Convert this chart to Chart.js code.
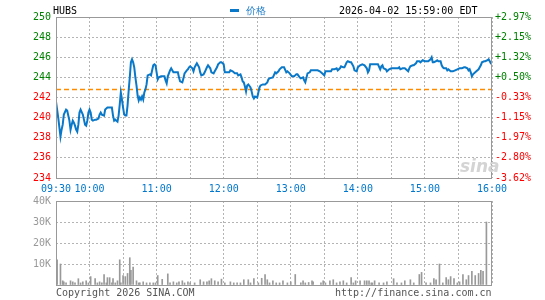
<!DOCTYPE html>
<html><head><meta charset="utf-8">
<script src="https://cdn.jsdelivr.net/npm/chart.js@4"></script>
<style>
html,body{margin:0;padding:0;background:#fff;}
#wrap{position:relative;width:545px;height:300px;overflow:hidden;font-family:"DejaVu Sans Mono",monospace;font-size:10px;}
canvas{position:absolute;left:0;top:0;}
.t{position:absolute;white-space:nowrap;line-height:12px;}
</style></head><body>
<div id="wrap">
<canvas id="pc" width="545" height="300"></canvas>
<canvas id="vc" width="545" height="300"></canvas>
<div class="t" style="left:53px;top:5px;color:#000">HUBS</div>
<div class="t" style="left:230px;top:5px;color:#1a7ac8"><span style="display:inline-block;width:9px;height:3px;background:#0a78c8;vertical-align:middle;margin-right:7px;position:relative;top:-1px"></span>价格</div>
<div class="t" style="left:339px;top:5px;color:#000">2026-04-02 15:59:00 EDT</div>
<div class="t" style="left:56px;top:287px;color:#555">Copyright 2026 SINA.COM</div>
<div class="t" style="left:335px;top:287px;color:#555">http://finance.sina.com.cn</div>
<div class="t" style="left:460px;top:156px;color:#d4d4d4;font:italic bold 17px 'DejaVu Sans',sans-serif;line-height:20px">sina</div>
</div>
<script>
// ---- data ----
const prevClose = 242.79;
const priceTimes = ["09:30","09:32","09:34","09:35","09:36","09:37","09:39","09:40","09:41","09:42","09:43","09:44","09:45","09:46","09:47","09:48","09:49","09:50","09:51","09:52","09:54","09:55","09:56","09:57","09:58","09:59","10:00","10:01","10:02","10:03","10:05","10:06","10:08","10:09","10:10","10:11","10:13","10:14","10:16","10:18","10:20","10:21","10:22","10:23","10:25","10:26","10:27","10:28","10:29","10:30","10:31","10:32","10:33","10:34","10:35","10:36","10:37","10:38","10:39","10:40","10:41","10:42","10:43","10:44","10:45","10:46","10:47","10:48","10:49","10:50","10:51","10:52","10:54","10:55","10:56","10:57","10:58","10:59","11:00","11:01","11:02","11:04","11:07","11:08","11:09","11:10","11:12","11:13","11:15","11:17","11:19","11:20","11:21","11:23","11:24","11:25","11:27","11:28","11:29","11:30","11:32","11:33","11:34","11:35","11:36","11:38","11:39","11:40","11:42","11:43","11:45","11:46","11:48","11:49","11:51","11:52","11:54","11:55","11:57","11:58","12:00","12:01","12:03","12:05","12:06","12:08","12:10","12:12","12:13","12:15","12:16","12:17","12:18","12:19","12:20","12:21","12:22","12:24","12:25","12:26","12:27","12:28","12:30","12:31","12:32","12:33","12:35","12:37","12:39","12:40","12:41","12:44","12:46","12:47","12:49","12:50","12:52","12:54","12:56","12:57","12:59","13:01","13:03","13:05","13:06","13:08","13:09","13:11","13:12","13:13","13:15","13:17","13:18","13:20","13:22","13:24","13:26","13:28","13:30","13:31","13:33","13:36","13:37","13:39","13:41","13:42","13:44","13:45","13:47","13:48","13:50","13:51","13:53","13:54","13:56","13:57","13:59","14:00","14:02","14:04","14:06","14:08","14:09","14:10","14:11","14:13","14:15","14:18","14:20","14:21","14:22","14:23","14:25","14:26","14:28","14:30","14:33","14:36","14:37","14:38","14:40","14:42","14:44","14:45","14:46","14:47","14:49","14:50","14:52","14:53","14:55","14:56","14:58","15:00","15:02","15:03","15:05","15:06","15:07","15:08","15:10","15:11","15:12","15:14","15:15","15:16","15:17","15:19","15:20","15:21","15:23","15:25","15:27","15:29","15:31","15:33","15:35","15:36","15:38","15:39","15:40","15:41","15:42","15:43","15:45","15:46","15:48","15:49","15:50","15:51","15:53","15:54","15:56","15:57","15:58","15:59","16:00"];
const priceValues = [241.6,240.0,238.1,238.8,239.3,240.3,240.8,240.7,240.2,239.7,238.8,239.3,239.7,239.5,239.2,238.8,238.6,239.3,240.5,240.8,240.3,239.8,239.3,239.2,239.7,240.5,240.8,240.5,239.8,239.7,239.8,239.8,239.9,240.3,240.5,240.3,240.2,240.8,241.0,241.0,241.0,240.2,239.7,239.8,239.6,240.2,241.3,242.5,241.8,241.0,240.3,240.2,240.2,241.2,242.7,244.0,245.5,245.8,245.5,245.0,244.0,243.2,242.2,241.7,242.0,241.8,242.1,241.8,242.5,242.8,243.3,244.2,244.3,244.2,244.7,245.2,245.3,245.2,244.5,243.8,244.0,244.1,244.1,243.7,243.4,244.1,244.7,244.9,244.5,244.5,244.5,244.0,243.6,243.5,243.9,244.4,244.7,244.8,245.0,245.1,244.9,244.6,245.0,245.2,245.4,245.0,244.5,244.2,244.3,244.5,245.0,245.2,244.9,244.5,244.4,244.6,245.0,245.3,245.5,245.5,245.3,244.5,244.5,244.5,244.7,244.6,244.4,244.4,244.2,244.3,244.0,243.6,243.5,243.1,242.6,243.2,243.3,243.0,242.6,242.1,241.9,242.1,242.0,242.5,243.0,243.2,243.3,243.3,243.5,243.8,243.9,244.0,244.5,244.4,244.6,244.8,245.0,245.0,244.5,244.6,244.4,244.1,244.1,244.3,244.3,244.0,243.9,244.0,243.7,243.5,244.4,244.5,244.7,244.7,244.7,244.7,244.6,244.4,244.2,244.6,244.6,244.6,244.8,244.8,244.9,244.7,244.9,245.1,245.0,245.0,245.5,245.6,245.5,245.5,245.1,244.7,244.6,245.0,245.2,245.3,245.2,244.9,244.5,244.7,245.3,245.3,245.3,245.3,244.8,245.1,245.2,244.9,244.8,244.6,244.8,244.9,244.9,244.9,245.0,244.8,244.9,244.9,244.7,244.6,244.9,245.1,245.2,245.2,245.4,245.6,245.6,245.5,245.7,245.6,245.6,245.6,245.8,246.0,245.5,245.5,245.6,245.7,245.6,245.6,245.2,245.0,244.9,244.9,244.7,244.8,244.6,244.6,244.7,244.8,244.9,244.9,245.0,245.0,244.9,244.7,244.8,244.5,244.1,244.3,244.5,244.6,244.8,245.0,245.2,245.5,245.6,245.6,245.7,245.8,245.6,245.4,245.3];
const volumeTimes = ["09:31","09:34","09:36","09:37","09:39","09:43","09:45","09:47","09:50","09:52","09:54","09:57","09:59","10:01","10:05","10:07","10:09","10:11","10:13","10:15","10:16","10:18","10:20","10:21","10:23","10:25","10:27","10:28","10:30","10:32","10:34","10:36","10:37","10:39","10:42","10:44","10:45","10:48","10:51","10:54","10:57","10:59","11:01","11:05","11:10","11:12","11:15","11:18","11:20","11:23","11:25","11:28","11:30","11:34","11:39","11:42","11:45","11:47","11:49","11:52","11:55","11:58","12:01","12:06","12:09","12:12","12:15","12:18","12:22","12:24","12:27","12:31","12:34","12:37","12:39","12:41","12:44","12:47","12:50","12:53","12:57","13:00","13:04","13:09","13:11","13:13","13:16","13:19","13:20","13:27","13:29","13:31","13:35","13:38","13:41","13:44","13:47","13:50","13:54","13:56","13:58","14:02","14:06","14:08","14:10","14:12","14:13","14:15","14:19","14:23","14:26","14:32","14:35","14:39","14:42","14:47","14:50","14:55","14:57","15:01","15:05","15:08","15:10","15:13","15:16","15:19","15:21","15:23","15:26","15:29","15:31","15:34","15:37","15:39","15:42","15:45","15:48","15:50","15:52","15:55","15:57","15:59"];
const volumeValues = [12000,10000,2000,1500,1000,2000,1500,1000,3000,1000,1500,2000,1000,4000,3000,1000,1500,1000,5000,1000,3500,3500,1000,3000,1000,2000,12000,1000,4500,4000,5500,13000,7000,8500,2000,1000,1000,1500,1000,1000,1000,1000,4500,2700,5300,1000,1500,1000,1500,2000,1000,1500,1000,1000,2500,1500,1500,2000,3000,2000,1500,2800,1000,1500,1000,1000,1000,2500,2500,1000,3000,1000,3200,5000,2500,1000,2000,1000,1000,2000,1000,1500,5000,1000,2000,1000,1200,2000,1500,1000,2000,1000,2000,2500,1000,1500,2000,1000,3500,1000,2000,2000,2000,2000,2000,1000,1000,2000,1000,1000,1500,3000,1000,1000,2000,2500,1000,5000,6000,1000,1000,3000,2500,10000,1000,3500,2500,4000,3000,1000,1500,5000,2500,4500,6500,4500,5500,7000,6500,30000];
const volumeTicks = [0,10000,20000,30000,40000];

// ---- helpers ----
const toMin = t => { const [h,m] = t.split(':').map(Number); return h*60+m - (9*60+30); };
const fmtMin = v => { const tot = 9*60+30+v; const h = Math.floor(tot/60), m = tot%60; return String(h).padStart(2,'0')+':'+String(m).padStart(2,'0'); };
const FONT = {family:'"DejaVu Sans Mono", monospace', size:10};
const GRID = '#b4b4b4';
const frame = {id:'frame', afterDraw(c){const a=c.chartArea, x=c.ctx; x.save(); x.strokeStyle='#999'; x.lineWidth=1; x.strokeRect(Math.round(a.left)+0.5, Math.round(a.top)+0.5, Math.round(a.right-a.left)-1, Math.round(a.bottom-a.top)); x.restore();}};

new Chart(document.getElementById('pc'), {
  type:'line',
  data:{datasets:[
    {label:'价格', data: priceTimes.map((t,i)=>({x:toMin(t), y:priceValues[i]})), borderColor:'#0a78c8', borderWidth:2, pointRadius:0, tension:0, order:1},
    {label:'昨收', data:[{x:0,y:prevClose},{x:390,y:prevClose}], borderColor:'#ff8c00', borderWidth:1.5, borderDash:[5,3], pointRadius:0, order:2}
  ]},
  options:{
    responsive:false, animation:false, events:[],
    layout:{padding:{top:17,bottom:102,left:0,right:0}},
    plugins:{legend:{display:false}, tooltip:{enabled:false}},
    scales:{
      x:{type:'linear', min:0, max:390,
        ticks:{stepSize:30, autoSkip:false, maxRotation:0, padding:5, color:'#0077cc', font:FONT,
          callback:v => (v===0 || v%60===30) ? fmtMin(v) : ''},
        grid:{color:GRID, drawTicks:false}, border:{display:false, dash:[2,2]},
        afterFit(s){s.height=20;}},
      y:{position:'left', min:234, max:250,
        ticks:{stepSize:2, padding:5, font:FONT, color:c => c.tick.value > prevClose ? '#008000' : '#ff0000'},
        grid:{color:GRID, drawTicks:false}, border:{display:false, dash:[2,2]},
        afterFit(s){s.width=56;}},
      y2:{position:'right', min:234, max:250,
        ticks:{stepSize:2, padding:3, font:FONT, color:c => c.tick.value > prevClose ? '#008000' : '#ff0000',
          callback:v => { const p=(v/prevClose-1)*100; return (p>0?'+':'')+p.toFixed(2)+'%'; }},
        grid:{display:false, drawTicks:false}, border:{display:false},
        afterFit(s){s.width=53;}}
    }
  },
  plugins:[frame]
});

new Chart(document.getElementById('vc'), {
  type:'bar',
  data:{datasets:[{label:'成交量', data: volumeTimes.map((t,i)=>({x:toMin(t), y:volumeValues[i]})), backgroundColor:'#999', barThickness:1, grouped:false}]},
  options:{
    responsive:false, animation:false, events:[],
    layout:{padding:{top:201,bottom:15,left:0,right:53}},
    plugins:{legend:{display:false}, tooltip:{enabled:false}},
    scales:{
      x:{type:'linear', min:0, max:390, offset:false,
        ticks:{stepSize:30, display:false},
        grid:{color:GRID, drawTicks:false, offset:false}, border:{display:false, dash:[2,2]},
        afterFit(s){s.height=0;}},
      y:{position:'left', min:0, max:40000,
        afterBuildTicks(s){ s.ticks = volumeTicks.map(v=>({value:v})); },
        ticks:{padding:5, font:FONT, color:'#999', callback:v => v ? (v/1000)+'K' : ''},
        grid:{color:GRID, drawTicks:false}, border:{display:false, dash:[2,2]},
        afterFit(s){s.width=56;}}
    }
  },
  plugins:[frame]
});
</script>
</body></html>
